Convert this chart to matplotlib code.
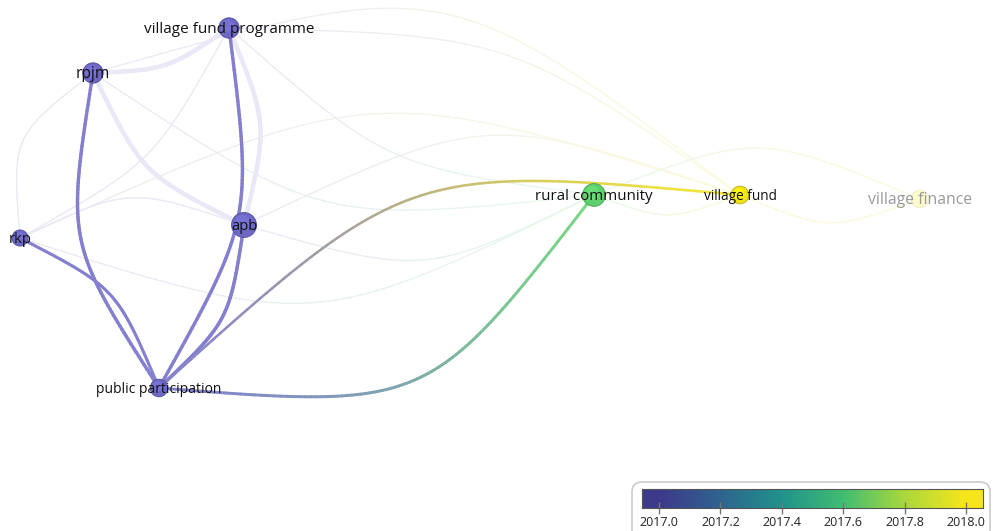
import numpy as np
import matplotlib
matplotlib.use('Agg')
import matplotlib.pyplot as plt
from matplotlib.collections import LineCollection
from matplotlib.colors import LinearSegmentedColormap, to_rgb
from matplotlib.patches import Circle, FancyBboxPatch

plt.rcParams['font.family'] = ['Open Sans', 'DejaVu Sans']

# dane sieci (pozycje wezlow w pikselach ekranu, y w dol)
labels = ['village fund programme', 'rpjm', 'rkp', 'apb', 'public participation',
          'rural community', 'village fund', 'village finance']
node_x = [229, 93, 20, 244, 159, 594, 740, 920]
node_y = [28, 73, 238, 225, 388, 195, 195, 199]
occurrences = [8, 8, 5, 12, 6, 10, 6, 6]
avg_year = [2017.0, 2017.0, 2017.0, 2017.0, 2017.0, 2017.65, 2018.0, 2018.0]

# krawedzie: zrodlo, cel, sila polaczenia
edge_src = ['village fund programme', 'apb', 'rpjm', 'rkp', 'public participation',
            'public participation', 'village fund programme', 'village fund programme',
            'rpjm', 'rpjm', 'rkp', 'rkp', 'rkp', 'rkp', 'rpjm', 'village fund programme',
            'apb', 'apb', 'rpjm', 'village fund programme', 'rural community',
            'village fund', 'rural community']
edge_dst = ['public participation', 'public participation', 'public participation',
            'public participation', 'rural community', 'village fund', 'apb', 'rpjm',
            'apb', 'rkp', 'village fund programme', 'apb', 'village fund',
            'rural community', 'rural community', 'rural community', 'rural community',
            'village fund', 'village fund', 'village fund', 'village finance',
            'village finance', 'village fund']
edge_strength = [4, 4, 4, 3.5, 3.5, 3, 5, 5, 5, 1.5, 1.5, 1.5, 1.5, 1.5, 1.5, 1.5,
                 1.5, 1.5, 1.5, 1.5, 1.5, 1.5, 1.5]
edge_bend = [-0.164, -0.17, 0.19, -0.18, 0.27, -0.218, -0.16, -0.14, 0.17, 0.27,
             0.14, -0.2, -0.19, 0.2, 0.18, 0.15, 0.19, -0.2, -0.25, -0.15, -0.2,
             0.19, 0.18]

selected = 'public participation'

year_ticks = [2017.0, 2017.2, 2017.4, 2017.6, 2017.8, 2018.0]
year_min, year_max = 2017.0, 2018.0

# rozmiary etykiet (styl)
label_size = [11, 11.2, 10.8, 10.6, 10, 10.9, 9.8, 11.3]

# kolory
node_cmap = LinearSegmentedColormap.from_list(
    'nodes', [(0, '#6d68c6'), (0.35, '#3f8fa8'), (0.65, '#5fd06e'), (1, '#f2e411')])
bar_cmap = LinearSegmentedColormap.from_list(
    'bar', ['#3d3a8a', '#2f648f', '#20938b', '#40bd72', '#a9d83c', '#f7e51b'])


def node_color(i):
    v = (avg_year[i] - year_min) / (year_max - year_min)
    return np.array(to_rgb(node_cmap(min(max(v, 0), 1))))


def fade(c, a):
    return 1 - a * (1 - np.asarray(c))


def curve(p0, p1, bend, n=90):
    p0 = np.array(p0, float)
    p1 = np.array(p1, float)
    d = p1 - p0
    c = np.hypot(d[0], d[1])
    nv = np.array([-d[1], d[0]]) / c
    v = (p0 + p1) / 2 + nv * bend * c
    t = np.linspace(0, 1, n)[:, None]
    return (1 - t) ** 3 * p0 + 3 * (1 - t) ** 2 * t * v + 3 * (1 - t) * t ** 2 * v + t ** 3 * p1


fig = plt.figure(figsize=(9.93, 5.31), dpi=100)
ax = fig.add_axes([0, 0, 1, 1])
ax.set_xlim(0, 993)
ax.set_ylim(531, 0)
ax.axis('off')

idx = {name: i for i, name in enumerate(labels)}
neighbours = {selected}
for s, d in zip(edge_src, edge_dst):
    if s == selected:
        neighbours.add(d)
    if d == selected:
        neighbours.add(s)

# rysowanie krawedzi (najpierw wygaszone, potem podswietlone)
order = sorted(range(len(edge_src)),
               key=lambda k: selected in (edge_src[k], edge_dst[k]))
for k in order:
    a, b = idx[edge_src[k]], idx[edge_dst[k]]
    pts = curve((node_x[a], node_y[a]), (node_x[b], node_y[b]), edge_bend[k])
    segs = np.stack([pts[:-1], pts[1:]], axis=1)
    t = np.linspace(0, 1, len(segs))[:, None]
    cols = (1 - t) * node_color(a) + t * node_color(b)
    active = selected in (edge_src[k], edge_dst[k])
    cols = fade(cols, 0.84 if active else 0.15)
    lc = LineCollection(segs, colors=cols, linewidths=edge_strength[k] * 0.85 * 0.72,
                        capstyle='round', zorder=2 if active else 1)
    ax.add_collection(lc)

# wezly
for i, name in enumerate(labels):
    r = 3.6 * np.sqrt(occurrences[i])
    col = node_color(i)
    a = 1.0 if name in neighbours else 0.22
    ax.add_patch(Circle((node_x[i], node_y[i]), r, facecolor=fade(col, a),
                        edgecolor=fade(col * 0.75, a), lw=0.6, zorder=3))
    ax.add_patch(Circle((node_x[i] - r * 0.15, node_y[i] - r * 0.2), r * 0.6,
                        facecolor=fade(np.minimum(col * 1.08 + 0.04, 1), a),
                        edgecolor='none', alpha=0.5, zorder=3))
    ax.text(node_x[i], node_y[i] + 1.5, name, ha='center', va='center',
            fontsize=label_size[i], color='#111111' if name in neighbours else '#9a9a9a',
            zorder=4)

# legenda kolorow
ax.add_patch(FancyBboxPatch((632, 482), 358, 80,
                            boxstyle='round,pad=0,rounding_size=10',
                            facecolor='white', edgecolor='#cccccc', lw=1.2, zorder=5))

lo = year_min - (659 - 642) / 307
hi = year_min + (983 - 659) / 307
cax = fig.add_axes([642 / 993, 1 - 508 / 531, 341 / 993, 19 / 531])
grad = np.linspace(lo, hi, 300).reshape(1, -1)
cax.imshow(grad, extent=[lo, hi, 0, 1], aspect='auto', cmap=bar_cmap,
           vmin=year_min, vmax=year_max)
cax.set_xlim(lo, hi)
cax.set_yticks([])
cax.set_xticks(year_ticks)
cax.set_xticklabels(['%.1f' % y for y in year_ticks])
cax.tick_params(axis='x', direction='inout', length=9, width=1, color='#777777',
                labelsize=9, labelcolor='#222222', pad=1.5)
for sp in cax.spines.values():
    sp.set_color('#555555')
    sp.set_linewidth(0.8)

fig.savefig('out.png', dpi=100)
